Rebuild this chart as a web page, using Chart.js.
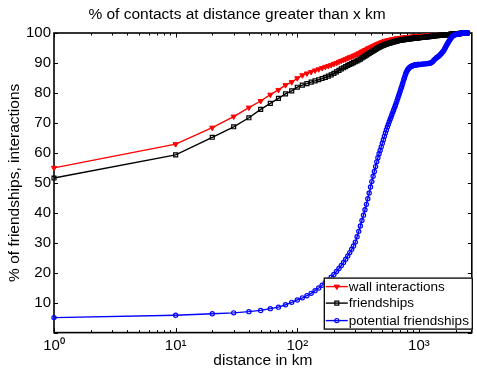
<!DOCTYPE html>
<html><head><meta charset="utf-8">
<script src="https://cdn.jsdelivr.net/npm/chart.js@4"></script>
<style>html,body{margin:0;padding:0;background:#fff}#wrap{width:477px;height:370px}</style>
</head><body><div id="wrap"><canvas id="c" width="477" height="370"></canvas></div>
<script>
const distances = [1,
10,20,30,40,50,60,70,80,90,100,110,120,130,140,150,160,170,180,190,200,
210,220,230,240,250,260,270,280,290,300,310,320,330,340,350,360,370,380,390,400,
410,420,430,440,450,460,470,480,490,500,510,520,530,540,550,560,570,580,590,600,
610,620,630,640,650,660,670,680,690,700,710,720,730,740,750,760,770,780,790,800,
810,820,830,840,850,860,870,880,890,900,910,920,930,940,950,960,970,980,990,1000,
1025,1050,1075,1100,1125,1150,1175,1200,1225,1250,1275,1300,1325,1350,1375,1400,1425,1450,1475,1500,
1525,1550,1575,1600,1625,1650,1675,1700,1725,1750,1775,1800,1825,1850,1875,1900,1925,1950,1975,2000,
2025,2050,2075,2100,2125,2150,2175,2200,2225,2250,2275,2300,2325,2350,2375,2400,2425,2450,2475,2500];
const wallInteractions = [55.0,
62.9,68.4,72.1,75.1,77.3,79.4,81.0,82.6,83.6,84.9,85.9,86.5,87.0,87.5,87.9,88.3,88.7,89.0,89.3,89.7,
90.0,90.4,90.7,91.0,91.3,91.6,91.9,92.1,92.4,92.6,92.9,93.2,93.5,93.8,94.0,94.3,94.5,94.8,95.0,95.2,
95.4,95.6,95.8,96.0,96.2,96.4,96.5,96.7,96.8,97.0,97.1,97.2,97.3,97.4,97.5,97.6,97.6,97.7,97.8,97.8,
97.9,98.0,98.0,98.1,98.1,98.2,98.2,98.2,98.3,98.3,98.3,98.4,98.4,98.4,98.5,98.5,98.5,98.5,98.6,98.6,
98.6,98.6,98.6,98.7,98.7,98.7,98.7,98.7,98.8,98.8,98.8,98.8,98.8,98.8,98.8,98.9,98.9,98.9,98.9,98.9,
99.0,99.0,99.0,99.0,99.1,99.1,99.1,99.1,99.2,99.2,99.2,99.2,99.3,99.3,99.3,99.3,99.4,99.4,99.4,99.4,
99.4,99.4,99.5,99.5,99.5,99.5,99.5,99.5,99.6,99.6,99.6,99.6,99.7,99.7,99.7,99.7,99.7,99.7,99.8,99.8,
99.8,99.8,99.8,99.8,99.9,99.9,99.9,99.9,99.9,99.9,100,100,100,100,100,100,100,100,100,100];
const friendships = [51.6,
59.3,65.2,68.7,71.7,74.5,76.5,78.2,79.7,80.7,81.9,82.6,83.1,83.6,84.0,84.4,84.8,85.2,85.6,86.0,86.5,
87.0,87.5,88.0,88.4,88.8,89.2,89.5,89.8,90.1,90.4,90.7,91.0,91.3,91.7,92.0,92.3,92.6,92.9,93.2,93.5,
93.8,94.0,94.3,94.5,94.8,95.0,95.2,95.4,95.6,95.8,95.9,96.0,96.2,96.3,96.4,96.5,96.6,96.7,96.8,96.9,
97.0,97.0,97.1,97.2,97.3,97.3,97.4,97.5,97.5,97.6,97.6,97.7,97.7,97.8,97.8,97.8,97.9,97.9,97.9,98.0,
98.0,98.0,98.0,98.1,98.1,98.1,98.1,98.2,98.2,98.2,98.2,98.2,98.3,98.3,98.3,98.3,98.3,98.4,98.4,98.4,
98.4,98.5,98.5,98.6,98.6,98.7,98.7,98.8,98.8,98.9,98.9,99.0,99.0,99.0,99.1,99.1,99.1,99.2,99.2,99.2,
99.3,99.3,99.3,99.3,99.4,99.4,99.4,99.4,99.5,99.5,99.5,99.5,99.6,99.6,99.6,99.6,99.7,99.7,99.7,99.7,
99.8,99.8,99.8,99.8,99.8,99.8,99.9,99.9,99.9,99.9,100,100,100,100,100,100,100,100,100,100];
const potentialFriendships = [5.0,
5.8,6.3,6.6,7.0,7.4,8.0,8.5,9.3,10.1,10.9,11.6,12.3,13.1,14.0,14.9,15.8,16.7,17.6,18.5,19.4,
20.4,21.4,22.4,23.4,24.5,25.6,26.7,27.8,28.9,30.2,32.0,33.8,35.6,37.4,39.2,41.0,42.8,44.7,46.6,48.6,
50.4,52.2,53.8,55.4,57.0,58.4,59.7,60.8,62.0,63.2,64.4,65.5,66.6,67.6,68.6,69.5,70.4,71.2,72.0,72.8,
73.6,74.3,75.1,75.8,76.6,77.4,78.2,79.0,79.7,80.5,81.3,82.0,82.8,83.6,84.4,85.1,85.8,86.5,87.0,87.4,
87.8,88.1,88.3,88.5,88.7,88.8,88.9,89.0,89.1,89.2,89.2,89.3,89.3,89.4,89.4,89.4,89.5,89.5,89.5,89.5,
89.5,89.6,89.6,89.7,89.7,89.7,89.8,89.8,89.9,90.0,90.2,90.5,90.9,91.2,91.5,91.8,92.0,92.2,92.5,92.8,
93.1,93.5,93.8,94.2,94.7,95.2,95.7,96.2,96.6,97.0,97.4,97.8,98.2,98.5,98.8,99.0,99.2,99.3,99.4,99.5,
99.5,99.6,99.6,99.7,99.7,99.8,99.8,99.8,99.9,99.9,100,100,100,100,100,100,100,100,100,100];
const seriesLabels = ['wall interactions','friendships','potential friendships'];
const xMajorTicks = [1,10,100,1000];
const xTickLabels = ['10⁰','10¹','10²','10³'];
const xMinorTicks = [2,3,4,5,6,7,8,9,20,30,40,50,60,70,80,90,200,300,400,500,600,700,800,900,2000];
const yTicks = [0,10,20,30,40,50,60,70,80,90,100];
const yTickLabels = ['','10','20','30','40','50','60','70','80','90','100'];

const FONT = 'Liberation Sans, Arial, sans-serif';
const pts = arr => distances.map((d,i)=>({x:d,y:arr[i]}));

const boxTicks = {
  id:'boxTicks',
  beforeDatasetsDraw(chart){
    const {ctx, chartArea:a, scales:{x,y}} = chart;
    ctx.save();
    ctx.strokeStyle='#000'; ctx.lineWidth=1;
    ctx.beginPath();
    for (const v of yTicks){ const p=Math.round(y.getPixelForValue(v))+0.5;
      ctx.moveTo(a.left,p); ctx.lineTo(a.left+4,p); ctx.moveTo(a.right,p); ctx.lineTo(a.right-4,p);}
    for (const v of xMajorTicks){ const p=Math.round(x.getPixelForValue(v))+0.5;
      ctx.moveTo(p,a.top); ctx.lineTo(p,a.top+4.5); ctx.moveTo(p,a.bottom); ctx.lineTo(p,a.bottom-4.5);}
    for (const v of xMinorTicks){ const p=Math.round(x.getPixelForValue(v))+0.5;
      ctx.moveTo(p,a.top); ctx.lineTo(p,a.top+2.5); ctx.moveTo(p,a.bottom); ctx.lineTo(p,a.bottom-2.5);}
    ctx.stroke();
    ctx.lineWidth=1.6;
    ctx.strokeRect(a.left,a.top,a.right-a.left,a.bottom-a.top);
    ctx.restore();
  },
  afterDatasetsDraw(chart){
    const {ctx, chartArea:a} = chart;
    const L=a.right-148, R=a.right+1, T=a.bottom-55, B=a.bottom-3;
    ctx.save();
    ctx.fillStyle='#fff'; ctx.fillRect(L,T,R-L,B-T);
    ctx.strokeStyle='#000'; ctx.lineWidth=1.3; ctx.strokeRect(L+0.5,T+0.5,R-L-1,B-T-1);
    const rows=[T+9,T+25.5,T+43];
    chart.data.datasets.forEach((ds,i)=>{
      const yy=rows[i];
      ctx.strokeStyle=ds.borderColor; ctx.lineWidth=ds.borderWidth;
      ctx.beginPath(); ctx.moveTo(L+2,yy); ctx.lineTo(L+24,yy); ctx.stroke();
      ctx.fillStyle=ds.pointBackgroundColor; ctx.strokeStyle=ds.borderColor; ctx.lineWidth=ds.pointBorderWidth;
      Chart.helpers.drawPoint(ctx,{pointStyle:ds.pointStyle,rotation:ds.pointRotation||0,radius:ds.pointRadius,borderWidth:ds.pointBorderWidth},L+13,yy);
      ctx.fillStyle='#000'; ctx.font='13.5px '+FONT; ctx.textBaseline='middle'; ctx.textAlign='left';
      ctx.fillText(ds.label,L+25,yy+0.5);
    });
    ctx.restore();
  }
};

new Chart(document.getElementById('c'),{
  type:'scatter',
  data:{datasets:[
    {label:seriesLabels[0],data:pts(wallInteractions),showLine:true,borderColor:'#ff0000',backgroundColor:'#ff0000',pointBackgroundColor:'#ff0000',borderWidth:1.4,pointStyle:'triangle',pointRotation:180,pointRadius:3,pointBorderWidth:1,order:3,clip:false},
    {label:seriesLabels[1],data:pts(friendships),showLine:true,borderColor:'#000000',backgroundColor:'rgba(255,255,255,0)',pointBackgroundColor:'rgba(255,255,255,0)',borderWidth:1.4,pointStyle:'rect',pointRadius:2.8,pointBorderWidth:1.2,order:2,clip:false},
    {label:seriesLabels[2],data:pts(potentialFriendships),showLine:true,borderColor:'#0000ff',backgroundColor:'rgba(255,255,255,0)',pointBackgroundColor:'rgba(255,255,255,0)',borderWidth:1.4,pointStyle:'circle',pointRadius:2.1,pointBorderWidth:1.2,order:1,clip:false}
  ]},
  options:{
    responsive:false, animation:false, devicePixelRatio:1,
    layout:{padding:{left:0,right:3,top:0,bottom:0}},
    plugins:{
      legend:{display:false}, tooltip:{enabled:false},
      title:{display:true,text:'% of contacts at distance greater than x km',color:'#000',font:{family:FONT,size:15.5,weight:'normal'},padding:{top:5,bottom:9.4}}
    },
    scales:{
      x:{type:'logarithmic',min:1,max:2720,
        afterBuildTicks:s=>{s.ticks=xMajorTicks.map(v=>({value:v}));},
        afterFit:s=>{s.height=37.4;},
        grid:{display:false,drawTicks:false},border:{display:false},
        ticks:{autoSkip:false,maxRotation:0,padding:4,color:'#000',font:{family:FONT,size:15},
          callback:(v)=>{const i=xMajorTicks.indexOf(v);return i>=0?xTickLabels[i]:'';}},
        title:{display:true,text:'distance in km',color:'#000',font:{family:FONT,size:15.5},padding:{top:0,bottom:0}}
      },
      y:{min:0,max:100,
        afterBuildTicks:s=>{s.ticks=yTicks.map(v=>({value:v}));},
        afterFit:s=>{s.width=54;},
        grid:{display:false,drawTicks:false},border:{display:false},
        ticks:{autoSkip:false,padding:3,color:'#000',font:{family:FONT,size:15},
          callback:(v)=>{const i=yTicks.indexOf(v);return i>=0?yTickLabels[i]:'';}},
        title:{display:true,text:'% of friendships, interactions',color:'#000',font:{family:FONT,size:15.5},padding:{top:5.7,bottom:0}}
      }
    }
  },
  plugins:[boxTicks]
});
</script></body></html>
